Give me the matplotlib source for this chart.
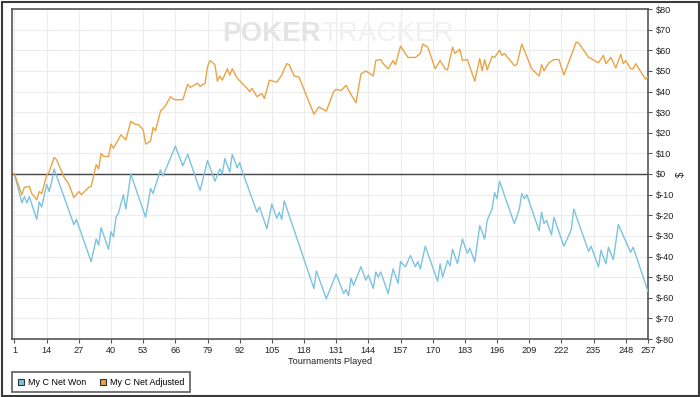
import matplotlib
matplotlib.use("Agg")
import matplotlib.pyplot as plt
from matplotlib.lines import Line2D
from matplotlib.patches import Rectangle

plt.rcParams['font.family'] = ['Liberation Sans', 'DejaVu Sans']

# Tick labels / categories
x_ticks = [1, 14, 27, 40, 53, 66, 79, 92, 105, 118, 131, 144, 157, 170, 183, 196, 209, 222, 235, 248, 257]
y_ticks = list(range(-80, 81, 10))
y_tick_labels = ["$%d" % v for v in y_ticks]

# Series: My C Net Won (turning points)
won_x = [1, 4, 5, 6, 7, 10, 11, 12, 14, 15, 16, 17, 25, 26, 32, 34, 35, 36, 39, 40, 41, 42, 43, 45,
         46, 48, 54, 56, 57, 60, 61, 66, 69, 71, 76, 79, 82, 84, 85, 86, 88, 89, 91, 92, 93, 99,
         100, 103, 105, 107, 108, 109, 110, 122, 123, 127, 131, 134, 135, 136, 137, 138, 141, 143,
         144, 146, 147, 148, 149, 152, 154, 156, 157, 159, 161, 163, 164, 165, 167, 172, 173, 174,
         176, 177, 178, 180, 182, 184, 185, 187, 189, 191, 192, 194, 195, 196, 197, 203, 205, 206,
         207, 208, 213, 214, 215, 216, 218, 219, 223, 226, 227, 233, 234, 237, 238, 240, 241, 243,
         245, 250, 251, 257]
won_y = [0, -14, -11, -14, -11, -22, -13.5, -16, -5, -8.5, -4, 2.5, -24.5, -22, -42.5, -31.5, -34.5,
         -26, -36.5, -28, -30.5, -21, -19, -10, -17, 0, -21, -7, -9.5, 2, -1, 13.5, 4, 9.5, -8, 6.5,
         -3.5, 2.5, 0, 7.5, 1, 9.5, 3, 5.5, 1.5, -18.5, -16, -26.5, -14.5, -21.5, -18.5, -22, -13,
         -55.5, -47, -60.5, -48.5, -58, -56, -59, -50.5, -54, -45, -51.5, -49, -55.5, -47.5, -50,
         -47.5, -58, -46, -53, -42.5, -45, -39.5, -45, -42.5, -46, -35, -52, -43.5, -50, -42, -44.5,
         -36.5, -43.5, -31.5, -38.5, -36, -42.5, -25, -31.5, -22.5, -17, -9, -12, -3.5, -24, -17,
         -9.5, -12, -10, -27.5, -18.5, -24, -22.5, -29.5, -21, -35, -27, -17, -37.5, -35, -45, -37,
         -43.5, -35.5, -41.5, -24.5, -38, -35.5, -57]

# Series: My C Net Adjusted
adj_x = [1, 4, 5, 7, 8, 10, 11, 12, 14, 15, 17, 18, 21, 23, 25, 27, 28, 31, 32, 34, 35, 36, 37, 39,
         40, 41, 44, 46, 48, 50, 51, 53, 54, 56, 57, 58, 60, 62, 64, 65, 66, 69, 71, 72, 75, 76, 78,
         79, 80, 82, 83, 84, 85, 87, 88, 89, 91, 95, 96, 97, 99, 101, 102, 104, 107, 109, 111, 112,
         114, 116, 122, 124, 127, 130, 131, 133, 135, 137, 139, 141, 143, 146, 147, 149, 150, 152,
         154, 155, 157, 160, 163, 165, 166, 168, 171, 173, 175, 176, 178, 179, 181, 182, 184, 187,
         189, 190, 191, 192, 194, 195, 197, 198, 199, 203, 204, 206, 209, 210, 213, 214, 215, 217,
         219, 221, 223, 228, 229, 231, 233, 234, 236, 237, 239, 240, 242, 244, 246, 247, 248, 250,
         251, 252, 256, 257]
adj_y = [0, -10, -6.5, -6, -9.5, -12.5, -8.5, -9.5, -0.5, 1, 8, 7, -1.5, -5, -11.5, -8.5, -10, -6.5,
         -6, 4.5, 2.5, 10, 8.5, 8.5, 14.5, 12.5, 19, 16.5, 25.5, 24, 24, 21.5, 14.5, 16, 22.5, 21,
         30.5, 33, 37.5, 36.5, 36, 36, 43.5, 42, 44, 42.5, 44, 52, 55, 53, 45, 47.5, 45.5, 51, 48,
         51, 46.5, 41.5, 40, 41.5, 37.5, 39, 36.5, 45.5, 44.5, 48, 53.5, 53, 47.5, 47, 29, 32.5,
         30.5, 40, 41, 40.5, 43, 38.5, 34.5, 48.5, 50, 47.5, 55, 55.5, 53.5, 51, 55, 53, 62, 56.5,
         56.5, 58.5, 63, 61.5, 51, 55, 51, 50.5, 61.5, 58.5, 60.5, 55, 55.5, 45, 56, 50, 55.5, 50.5,
         57, 56.5, 60, 57.5, 58.5, 52.5, 53, 63, 54, 51, 47.5, 53, 50, 54, 55.5, 55.5, 48, 64, 63.5,
         60, 56.5, 56, 54.5, 54, 57.5, 53.5, 56.5, 51.5, 58, 53.5, 55, 51, 51, 53.5, 46, 47]

series_names = ["My C Net Won", "My C Net Adjusted"]
blue = "#7cc3df"
orange = "#e9a446"

W, H = 700, 397
fig = plt.figure(figsize=(W / 100, H / 100), dpi=100)
fig.patch.set_facecolor("white")

# outer border
fig.patches.append(Rectangle((1.5 / W, 1.5 / H), (W - 3) / W, (H - 3) / H, transform=fig.transFigure,
                             fill=False, edgecolor="#3a3a3a", linewidth=1.5))

ax = fig.add_axes([12 / W, (H - 339) / H, (648 - 12) / W, (339 - 9) / H])
ax.set_xlim(0, 257)
ax.set_ylim(-80, 80)

ax.set_xticks(x_ticks)
ax.set_xticklabels([str(t) for t in x_ticks], fontsize=6.6, color="#222222")
ax.set_yticks(y_ticks)
ax.set_yticklabels(y_tick_labels, fontsize=6.6, color="#222222")
ax.yaxis.tick_right()
ax.tick_params(axis="both", length=3, width=0.8, color="#555555", pad=2)
ax.tick_params(axis="y", pad=3)

ax.grid(True, color="#ececec", linewidth=0.8)
ax.set_axisbelow(True)
for side in ["left", "right", "top", "bottom"]:
    ax.spines[side].set_color("#555555")
    ax.spines[side].set_linewidth(1.2)

ax.axhline(0, color="#444444", linewidth=1.0, zorder=2)

# watermark
ax.text(0.486, 0.923, "POKER", transform=ax.transAxes, ha="right", va="center", fontsize=20,
        fontweight="bold", color="#e4e4e4", zorder=1)
ax.text(0.486, 0.923, "TRACKER", transform=ax.transAxes, ha="left", va="center", fontsize=20,
        color="#f0f0f0", zorder=1)

ax.plot(won_x, won_y, color=blue, linewidth=1.0, zorder=3)
ax.plot(adj_x, adj_y, color=orange, linewidth=1.0, zorder=3)

ax.set_xlabel("Tournaments Played", fontsize=6.6, color="#222222", labelpad=1.5)
fig.text(681 / W, 1 - 174 / H, "$", rotation=90, ha="center", va="center", fontsize=7, color="#222222")

handles = [Line2D([], [], linestyle="none", marker="s", markersize=5, markerfacecolor=blue,
                  markeredgecolor="#333333", markeredgewidth=0.8),
           Line2D([], [], linestyle="none", marker="s", markersize=5, markerfacecolor=orange,
                  markeredgecolor="#333333", markeredgewidth=0.8)]
leg = fig.legend(handles, series_names, loc="lower left", bbox_to_anchor=(12 / W, 5 / H),
                 ncol=2, fontsize=6.4, frameon=True, fancybox=False, edgecolor="#333333",
                 handlelength=0.8, handletextpad=0.4, columnspacing=1.5, borderpad=0.6,
                 borderaxespad=0)
leg.get_frame().set_linewidth(1.2)

fig.savefig("out.png", dpi=100, facecolor="white")
